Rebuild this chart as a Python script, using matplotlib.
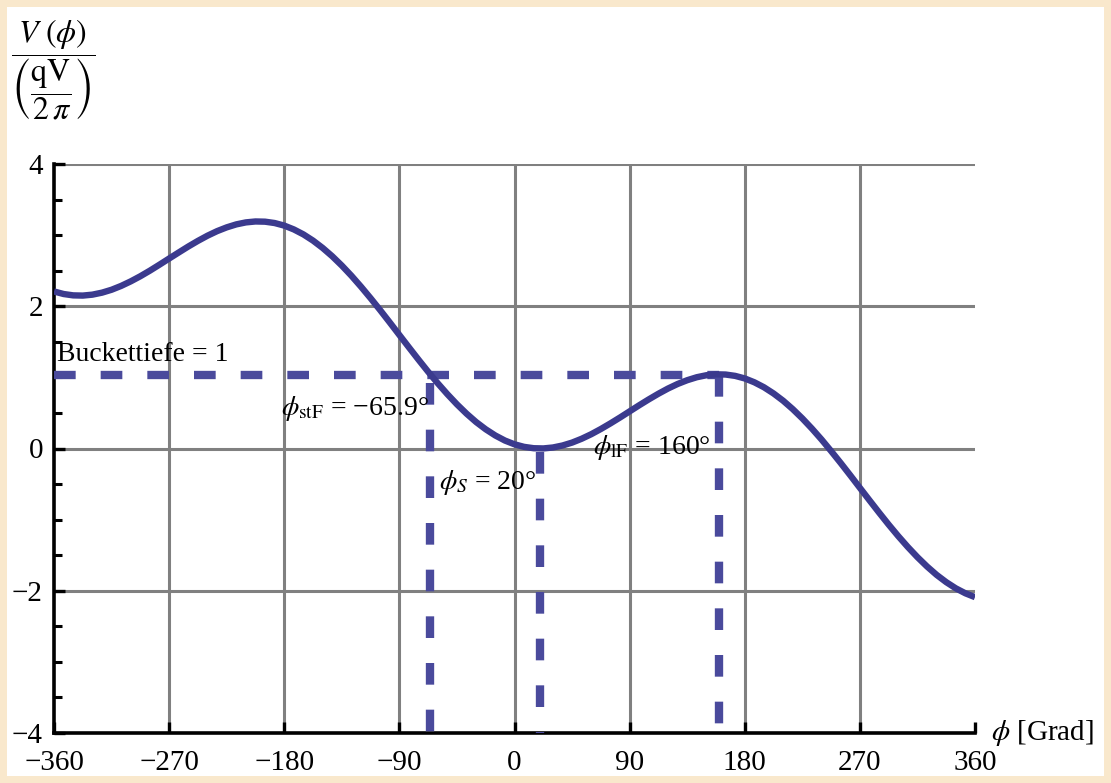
import matplotlib
matplotlib.use("Agg")
import matplotlib.pyplot as plt
from matplotlib.patches import Rectangle
from matplotlib.ticker import MultipleLocator

plt.rcParams["font.family"] = ["Liberation Serif", "DejaVu Serif"]
plt.rcParams["mathtext.fontset"] = "stix"

# Potential V(phi) in units of qV/(2 pi), sampled every 7.5 degrees
phi = [-360 + 7.5 * i for i in range(97)]
potential = [
    2.208, 2.172, 2.153, 2.150, 2.163, 2.191, 2.232, 2.286, 2.350, 2.422,
    2.501, 2.585, 2.671, 2.756, 2.840, 2.919, 2.992, 3.056, 3.109, 3.151,
    3.179, 3.192, 3.189, 3.170, 3.134, 3.080, 3.010, 2.923, 2.820, 2.703,
    2.572, 2.429, 2.275, 2.113, 1.945, 1.772, 1.596, 1.421, 1.248, 1.079,
    0.917, 0.764, 0.621, 0.490, 0.372, 0.270, 0.183, 0.112, 0.059, 0.023,
    0.004, 0.001, 0.014, 0.042, 0.083, 0.137, 0.201, 0.274, 0.353, 0.436,
    0.522, 0.608, 0.691, 0.770, 0.843, 0.907, 0.960, 1.002, 1.030, 1.043,
    1.040, 1.021, 0.985, 0.931, 0.861, 0.774, 0.672, 0.554, 0.423, 0.280,
    0.127, -0.036, -0.204, -0.377, -0.553, -0.728, -0.901, -1.070, -1.232, -1.385,
    -1.528, -1.659, -1.777, -1.879, -1.966, -2.036, -2.090,
]

# Characteristic phases and bucket depth
phi_s = 20
phi_lF = 160
phi_stF = -65.9
bucket_depth = 1.04

x_ticks = [-360, -270, -180, -90, 0, 90, 180, 270, 360]
x_labels = ["\u2212360", "\u2212270", "\u2212180", "\u221290", "0", "90", "180", "270", "360"]
y_ticks = [-4, -2, 0, 2, 4]
y_labels = ["\u22124", "\u22122", "0", "2", "4"]

W, H = 1111, 783
fig = plt.figure(figsize=(W / 100, H / 100), dpi=100)
fig.patch.set_facecolor("#f9e8cc")
fig.patches.append(Rectangle((7 / W, 7 / H), (W - 14) / W, (H - 14) / H,
                             transform=fig.transFigure, facecolor="white",
                             edgecolor="none", zorder=-10))

ax = fig.add_axes([54 / W, 50 / H, 921 / W, 569 / H])
ax.set_facecolor("none")
ax.set_xlim(-360, 360)
ax.set_ylim(-4, 4)

# grid
grid_kw = dict(color="#808080", lw=2.2, zorder=1)
for gx in x_ticks[1:-1]:
    ax.axvline(gx, **grid_kw)
for gy in y_ticks[1:]:
    ax.axhline(gy, **grid_kw)

for side in ("top", "right"):
    ax.spines[side].set_visible(False)
for side in ("left", "bottom"):
    ax.spines[side].set_linewidth(2.6)
    ax.spines[side].set_color("black")

ax.set_xticks(x_ticks)
ax.set_xticklabels(x_labels)
ax.set_yticks(y_ticks)
ax.set_yticklabels(y_labels)
ax.yaxis.set_minor_locator(MultipleLocator(0.5))
ax.tick_params(axis="both", which="major", direction="in", length=8, width=2.4,
               labelsize=21, color="black")
ax.tick_params(axis="y", which="minor", direction="in", length=6, width=2.2)
ax.tick_params(axis="x", pad=12)
ax.tick_params(axis="y", pad=8)

dash_color = "#4a4a9c"
dash_kw = dict(color=dash_color, lw=6, dashes=(2.6, 3.0), zorder=3, dash_capstyle="butt")

# bucket depth line and phase markers
ax.plot([-360, phi_lF], [bucket_depth, bucket_depth], **dash_kw)
ax.plot([phi_stF, phi_stF], [bucket_depth - 0.12, -4], **dash_kw)
ax.plot([phi_s, phi_s], [-0.05, -4], **dash_kw)
ax.plot([phi_lF, phi_lF], [bucket_depth, -4], **dash_kw)

# potential curve
ax.plot(phi, potential, color="#3b3a8e", lw=4.6, zorder=4,
        solid_capstyle="butt", solid_joinstyle="round")

txt_kw = dict(fontsize=20, color="black", zorder=5)
ax.text(-358, bucket_depth + 0.1, f"Buckettiefe = {bucket_depth:.0f}", ha="left", va="bottom", **txt_kw)
ax.text(phi_stF - 1, bucket_depth - 0.27, r"$\phi_{\mathrm{stF}}$" + f" = \u2212{abs(phi_stF):.1f}\u00b0",
        ha="right", va="top", **txt_kw)
ax.text(phi_s - 79, -0.27, r"$\phi_{S}$" + f" = {phi_s}\u00b0", ha="left", va="top", **txt_kw)
ax.text(phi_lF - 99, 0.22, r"$\phi_{\mathrm{lF}}$" + f" = {phi_lF}\u00b0", ha="left", va="top", **txt_kw)

# axis titles
ax.text(1.017, 0.0, r"$\phi$ [Grad]", transform=ax.transAxes, ha="left", va="center",
        fontsize=21)
fig.text(53 / W, 1 - 70 / H,
         r"$\dfrac{V\ (\phi)}{\left(\dfrac{\mathrm{qV}}{2\,\pi}\right)}$",
         ha="center", va="center", fontsize=23)

fig.savefig("out.png", dpi=100, facecolor=fig.get_facecolor())
